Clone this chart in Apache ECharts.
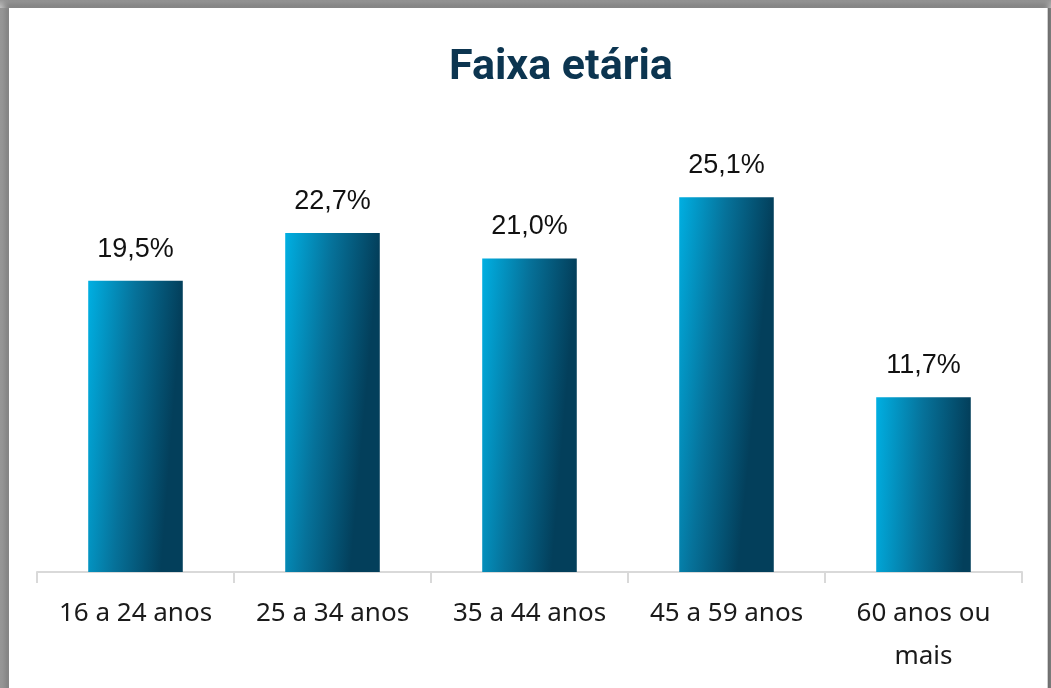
<!DOCTYPE html>
<html>
<head>
<meta charset="utf-8">
<script src="https://cdn.jsdelivr.net/npm/echarts@6/dist/echarts.min.js"></script>
<style>
  html, body { margin: 0; padding: 0; background: #ffffff; }
  #wrap { position: relative; width: 1051px; height: 688px; overflow: hidden; background: #8a8a8a; }
  #panel { position: absolute; left: 9px; top: 8px; width: 1038px; height: 700px; background: #ffffff;
           box-shadow: -2px -2px 6px 3px rgba(0,0,0,0.35); border-right: 1px solid #d0d0d0; }
  #shade { position: absolute; left: 0; top: 0; width: 1051px; height: 688px;
           background: linear-gradient(to bottom, #9a9a9a 0px, #c8c8c8 8px, transparent 8px),
                       linear-gradient(to right, #9a9a9a 0px, #c8c8c8 9px, transparent 9px); }
  #main { position: absolute; left: 0; top: 0; width: 1051px; height: 688px; }
</style>
</head>
<body>
<div id="wrap">
  <div id="shade"></div>
  <div id="panel"></div>
  <div id="main"></div>
</div>
<script>
// faixas etárias e percentuais
var categorias = ['16 a 24 anos', '25 a 34 anos', '35 a 44 anos', '45 a 59 anos', '60 anos ou\nmais'];
var percentuais = [19.5, 22.7, 21.0, 25.1, 11.7];

var chart = echarts.init(document.getElementById('main'));

var option = {
    backgroundColor: 'transparent',
    title: {
        text: 'Faixa etária',
        left: 444,
        top: 42,
        textStyle: {
            fontFamily: 'Roboto',
            fontWeight: 'bold',
            fontSize: 43,
            color: '#0c3550'
        }
    },
    grid: {
        left: 37,
        right: 29,
        top: 124,
        bottom: 116
    },
    xAxis: {
        type: 'category',
        data: categorias,
        axisLine: { lineStyle: { color: '#d9d9d9', width: 2 } },
        axisTick: { show: true, length: 11, lineStyle: { color: '#d9d9d9', width: 2 } },
        axisLabel: {
            margin: 20,
            fontFamily: 'Noto Sans',
            fontSize: 26,
            color: '#1a1a1a',
            lineHeight: 43,
            interval: 0
        }
    },
    yAxis: {
        type: 'value',
        min: 0,
        max: 30,
        show: false,
        splitLine: { show: false }
    },
    series: [{
        type: 'bar',
        data: percentuais,
        barWidth: '48%',
        itemStyle: {
            color: new echarts.graphic.LinearGradient(0, 0, 1, 0.025, [
                { offset: 0, color: '#00afe2' },
                { offset: 0.5, color: '#06729a' },
                { offset: 1, color: '#033f5b' }
            ])
        },
        label: {
            show: true,
            position: 'top',
            distance: 18,
            fontFamily: 'Liberation Sans',
            fontSize: 27,
            color: '#111111',
            formatter: function (p) {
                return p.value.toFixed(1).replace('.', ',') + '%';
            }
        }
    }]
};

chart.setOption(option);
</script>
</body>
</html>
